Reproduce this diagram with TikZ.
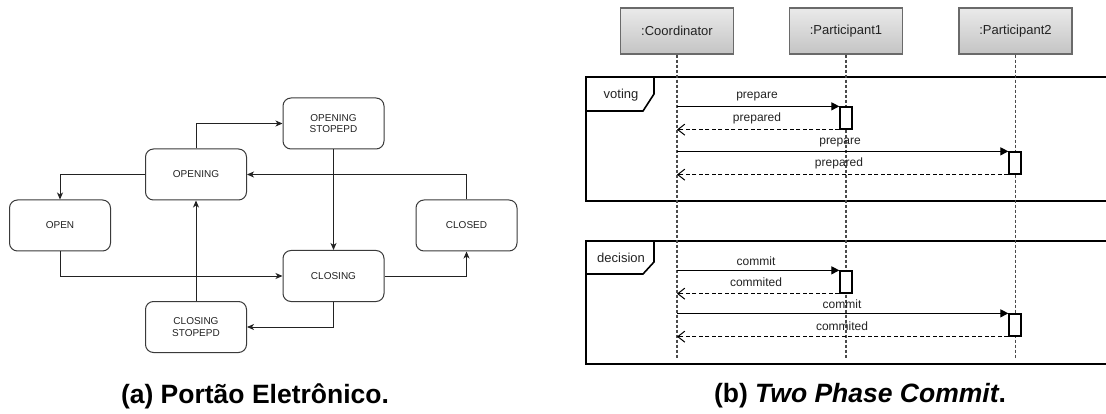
\documentclass[tikz,border=0pt]{standalone}
\usepackage{fontspec}
\setmainfont{Liberation Sans}
\usetikzlibrary{arrows.meta,shadings}
\definecolor{inkdark}{HTML}{222222}
\definecolor{boxline}{HTML}{3A3A3A}
\definecolor{headline}{HTML}{6A6A6A}
\definecolor{headtop}{HTML}{EAEAEA}
\definecolor{headbot}{HTML}{C4C4C4}
\definecolor{lifegray}{HTML}{4A4A4A}
\begin{document}
\begin{tikzpicture}[x=1pt,y=-1pt,
  state/.style={draw=boxline,line width=1pt,rounded corners=8pt,fill=white,
    minimum width=101pt,minimum height=51pt,inner sep=0pt,align=center,
    font=\fontsize{10}{11.5}\selectfont,text=inkdark},
  trans/.style={draw=inkdark,line width=1pt,-{Stealth[length=7pt,width=6pt,inset=2pt]}},
  lifehead/.style={draw=headline,line width=1.4pt,top color=headtop,bottom color=headbot,
    minimum width=113pt,minimum height=46pt,inner sep=0pt,
    font=\fontsize{13}{15}\selectfont,text=inkdark},
  lifeline/.style={draw=lifegray,line width=1.4pt,dash pattern=on 3pt off 2pt},
  activation/.style={draw=black,line width=1.3pt,fill=white,minimum width=12pt,
    minimum height=22pt,inner sep=0pt},
  frameline/.style={draw=black,line width=1.6pt},
  framelabel/.style={font=\fontsize{13}{15}\selectfont,text=inkdark},
  call/.style={draw=black,line width=1.2pt,-{Triangle[length=8pt,width=8pt]}},
  reply/.style={draw=black,line width=1.2pt,dash pattern=on 4pt off 2.5pt,
    -{Straight Barb[length=7pt,width=11pt,line width=1pt]}},
  msglabel/.style={font=\fontsize{12}{14}\selectfont,text=inkdark,inner sep=0pt},
  caption/.style={font=\fontsize{26.5}{30}\selectfont\bfseries,text=black,inner sep=0pt}]
\useasboundingbox (0,0) rectangle (1106,414);

% ---------- gate state machine ----------
\node[state] (os)      at (333.5,123.5) {OPENING\\STOPEPD};
\node[state] (opening) at (196,174.5)   {OPENING};
\node[state] (open)    at (60,225.5)    {OPEN};
\node[state] (closed)  at (466.5,225.5) {CLOSED};
\node[state] (closing) at (333.5,276)   {CLOSING};
\node[state] (cs)      at (196,327)     {CLOSING\\STOPEPD};

\draw[trans] (opening.north) |- (os.west);
\draw[trans] (opening.west) -| (open.north);
\draw[trans] (os.south) -- (closing.north);
\draw[trans] (closed.north) |- (opening.east);
\draw[trans] (open.south) |- (closing.west);
\draw[trans] (closing.east) -| (closed.south);
\draw[trans] (closing.south) |- (cs.east);
\draw[trans] (cs.north) -- (opening.south);

\node[caption] (capa) at (255,396) {(a) Portão Eletrônico.};

% ---------- two phase commit sequence ----------
% combined fragments
\draw[frameline] (1106,77) -- (586,77) -- (586,201) -- (1106,201);
\draw[frameline] (586,111) -- (643,111) -- (654,94) -- (654,77);
\node[framelabel] (voting) at (621,95) {voting};

\draw[frameline] (1106,241) -- (586,241) -- (586,364) -- (1106,364);
\draw[frameline] (586,274) -- (643,274) -- (654,262) -- (654,241);
\node[framelabel] (decision) at (621,258) {decision};

% lifelines
\node[lifehead] (coord) at (677,31)    {:Coordinator};
\node[lifehead] (part1) at (846,31)    {:Participant1};
\node[lifehead] (part2) at (1015.5,31) {:Participant2};
\coordinate (coordend) at (677,358);
\coordinate (part1end) at (846,358);
\coordinate (part2end) at (1015.5,358);
\draw[lifeline] (coord.south) -- (coordend);
\draw[lifeline] (part1.south) -- (part1end);
\draw[lifeline] (part2.south) -- (part2end);

% activations
\node[activation] (act1) at (846,118)  {};
\node[activation] (act2) at (1015,163) {};
\node[activation] (act3) at (846,282)  {};
\node[activation] (act4) at (1015,325) {};

% voting phase
\draw[call]  (act1.north west -| coord) -- (act1.north west);
\draw[reply] (act1.south west) -- (act1.south west -| coord);
\draw[call]  (act2.north west -| coord) -- (act2.north west);
\draw[reply] (act2.south west) -- (act2.south west -| coord);
\node[msglabel] (m1) at (757,97)  {prepare};
\node[msglabel] (m2) at (757,118) {prepared};
\node[msglabel] (m3) at (840,143) {prepare};
\node[msglabel] (m4) at (839,163) {prepared};

% decision phase
\draw[call]  (act3.north west -| coord) -- (act3.north west);
\draw[reply] (act3.south west) -- (act3.south west -| coord);
\draw[call]  (act4.north west -| coord) -- (act4.north west);
\draw[reply] (act4.south west) -- (act4.south west -| coord);
\node[msglabel] (m5) at (756,261) {commit};
\node[msglabel] (m6) at (756,282) {commited};
\node[msglabel] (m7) at (842,304) {commit};
\node[msglabel] (m8) at (842,326) {commited};

\node[caption] (capb) at (860,396) {(b) \textit{Two Phase Commit}.};
\end{tikzpicture}
\end{document}
